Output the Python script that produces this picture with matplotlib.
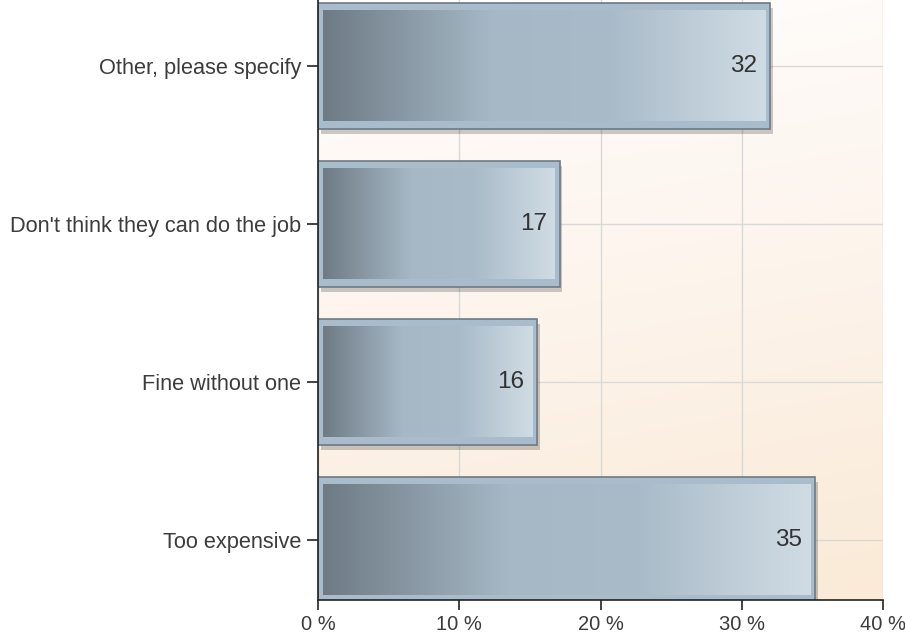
import matplotlib.pyplot as plt
import numpy as np
from matplotlib.colors import LinearSegmentedColormap
from matplotlib.patches import Rectangle

categories = ['Too expensive', 'Fine without one', "Don't think they can do the job", 'Other, please specify']
percents = [35.2, 15.5, 17.1, 32.0]
counts = [35, 16, 17, 32]
xticks = [0, 10, 20, 30, 40]

plt.rcParams['font.family'] = ['Liberation Sans', 'DejaVu Sans']

fig = plt.figure(figsize=(9.05, 6.37), dpi=100)
ax = fig.add_axes([318 / 905, 37 / 637, 565 / 905, 600 / 637])

# background gradient, near white at the top to peach at the bottom
bg_cmap = LinearSegmentedColormap.from_list('bg', ['#fffefd', '#fdf4ec', '#faead7'])
gx, gy = np.meshgrid(np.linspace(0, 1, 200), np.linspace(0, 1, 200))
ax.imshow(0.15 * gx + 0.85 * (1 - gy), cmap=bg_cmap, extent=[0, 40, -0.38, 3.418],
          origin='lower', aspect='auto', zorder=0, vmin=0, vmax=1)

ax.set_xticks(xticks)
ax.set_xticklabels([f'{t} %' for t in xticks])
ax.set_yticks(range(len(categories)))
ax.set_yticklabels(categories)
ax.grid(True, color='#d9d9d9', lw=1, zorder=1)
ax.set_axisbelow(True)

for s in ['top', 'right']:
    ax.spines[s].set_visible(False)
for s in ['left', 'bottom']:
    ax.spines[s].set_color('#222222')
    ax.spines[s].set_linewidth(1.2)
    ax.spines[s].set_zorder(6)
ax.tick_params(axis='y', length=8, width=1.2, color='#222222', labelsize=15.7,
               labelcolor='#3c3c3c', pad=4)
ax.tick_params(axis='x', length=7, width=1.2, color='#222222', labelsize=14.5,
               labelcolor='#3c3c3c', pad=4)

bar_cmap = LinearSegmentedColormap.from_list(
    'bar', [(0, '#6e7b85'), (0.38, '#a6b8c6'), (0.65, '#a9bbc9'), (1, '#d0dce4')])
grad = np.linspace(0, 1, 256).reshape(1, -1)
h = 0.8
for i, (p, c) in enumerate(zip(percents, counts)):
    y0 = i - h / 2
    # shadow
    ax.add_patch(Rectangle((0.2, y0 - 0.03), p, h, facecolor='#000000', alpha=0.2,
                           edgecolor='none', zorder=2))
    ax.add_patch(Rectangle((0, y0), p, h, facecolor='#a9bccb', edgecolor='#6c7a86',
                           lw=1.2, zorder=3))
    ax.imshow(grad, cmap=bar_cmap, extent=[0.35, p - 0.35, y0 + h - 0.05, y0 + 0.05],
              aspect='auto', zorder=4)
    ax.text(p - 0.9, i, str(c), ha='right', va='center', fontsize=17.5,
            color='#333333', zorder=5)

ax.set_xlim(0, 40)
ax.set_ylim(-0.38, 3.418)

fig.savefig('out.png', dpi=100)
